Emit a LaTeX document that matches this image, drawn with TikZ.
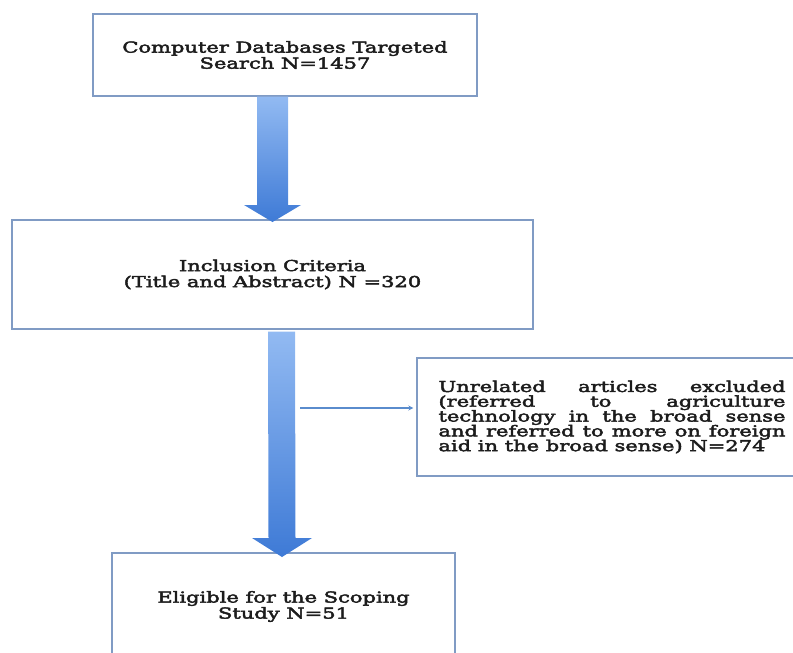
\documentclass[tikz,border=0pt]{standalone}
\usepackage{fontspec}
\usetikzlibrary{calc,shadows}
\newfontfamily\boxfont[FakeStretch=1.4,FakeBold=3]{DejaVu Serif}
\definecolor{boxline}{RGB}{128,155,196}
\definecolor{arrowlight}{RGB}{146,186,242}
\definecolor{arrowdark}{RGB}{62,122,214}
\definecolor{thinline}{RGB}{90,140,205}
\definecolor{boxtext}{RGB}{28,28,28}
\tikzset{%
    stage/.style={%
        draw=boxline, line width=1.3pt, fill=white,
        drop shadow={opacity=0.25, shadow xshift=1.2pt, shadow yshift=-1.2pt},
        text=boxtext, align=center,
        font=\boxfont\fontsize{15}{16}\selectfont
    },
    blockarrow/.style={%
        top color=arrowlight, bottom color=arrowdark, draw=none
    }
}

\begin{document}
\begin{tikzpicture}[x=1pt,y=-1pt]
\path[use as bounding box] (0,0) rectangle (793,653);
\clip (0,0) rectangle (793,653);

\node[stage, minimum width=384, minimum height=82] (DB) at (285,55)
    {Computer Databases Targeted\\Search N=1457};
\node[stage, minimum width=521, minimum height=109] (IC) at (272.5,274.5)
    {Inclusion Criteria\\(Title and Abstract) N =320};
\node[stage, minimum width=343, minimum height=107] (EL) at (283.5,606.5)
    {Eligible for the Scoping\\Study N=51};
\node[stage, minimum width=390, minimum height=118, align=justify,
      text width=347, font=\boxfont\fontsize{15}{14.8}\selectfont] (EX) at (612,417)
    {Unrelated articles excluded\linebreak
     (referred to agriculture\linebreak
     technology in the broad sense\linebreak
     and referred to more on foreign\linebreak
     aid in the broad sense) N=274};

% DB to IC
\coordinate (A1) at (DB.south -| 272.5,0);
\coordinate (A1t) at (272.5,222);
\shade[blockarrow] ($(A1)+(-15.5,0)$) -- ($(A1)+(15.5,0)$)
    -- ($(A1t)+(15.5,-17)$) -- ($(A1t)+(28.5,-17)$) -- (A1t)
    -- ($(A1t)+(-28.5,-17)$) -- ($(A1t)+(-15.5,-17)$) -- cycle;

% IC to EL
\coordinate (A2) at ($(IC.south -| 281.5,0)+(0,2)$);
\coordinate (A2t) at (282,557);
\shade[blockarrow] ($(A2)+(-13.5,0)$) -- ($(A2)+(13.5,0)$)
    -- ($(A2t)+(13.5,-19)$) -- ($(A2t)+(30,-19)$) -- (A2t)
    -- ($(A2t)+(-30,-19)$) -- ($(A2t)+(-13.5,-19)$) -- cycle;

% split to EX
\coordinate (SP) at (300,408);
\draw[thinline, line width=1.2pt, -stealth, shorten >=3pt] (SP) -- (SP -| EX.west);

\end{tikzpicture}
\end{document}
